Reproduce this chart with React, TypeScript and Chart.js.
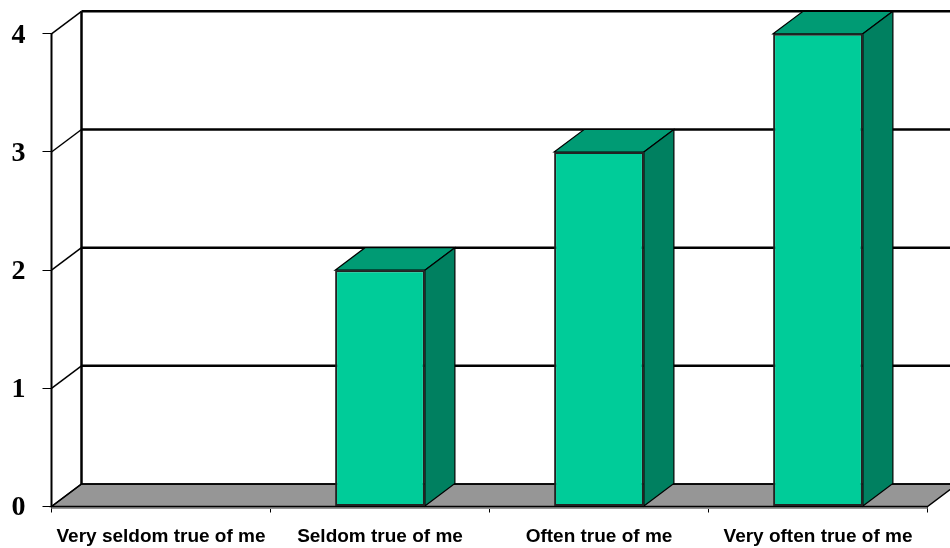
import React, { useEffect, useRef } from "react";
import { Chart, registerables } from "chart.js";

Chart.register(...registerables);

const categories = [
  "Very seldom true of me",
  "Seldom true of me",
  "Often true of me",
  "Very often true of me",
];
const values = [0, 2, 3, 4];

const DX = 30;
const DY = -22.5;

const depthPlugin = {
  id: "depth",
  beforeDatasetsDraw(chart: any) {
    const { ctx, chartArea, scales } = chart;
    const y = scales.y;
    const { left, right, bottom } = chartArea;
    ctx.save();
    // floor
    ctx.fillStyle = "#969696";
    ctx.strokeStyle = "#000";
    ctx.lineWidth = 1.5;
    ctx.beginPath();
    ctx.moveTo(left, bottom);
    ctx.lineTo(left + DX, bottom + DY);
    ctx.lineTo(right + DX, bottom + DY);
    ctx.lineTo(right, bottom);
    ctx.closePath();
    ctx.fill();
    ctx.fillRect(left, bottom, right - left, 2.5);
    ctx.stroke();
    // back wall grid lines
    for (const t of y.ticks) {
      const py = y.getPixelForValue(t.value);
      ctx.lineWidth = t.value === 0 ? 1.5 : 2.5;
      ctx.beginPath();
      ctx.moveTo(left + DX, py + DY);
      ctx.lineTo(right + DX, py + DY);
      ctx.stroke();
      ctx.lineWidth = 1.5;
      ctx.beginPath();
      ctx.moveTo(left, py);
      ctx.lineTo(left + DX, py + DY);
      ctx.stroke();
    }
    // walls
    ctx.lineWidth = 2;
    ctx.beginPath();
    ctx.moveTo(left, y.getPixelForValue(y.max));
    ctx.lineTo(left, bottom);
    ctx.stroke();
    ctx.lineWidth = 2.5;
    ctx.beginPath();
    ctx.moveTo(left + DX, y.getPixelForValue(y.max) + DY);
    ctx.lineTo(left + DX, bottom + DY);
    ctx.stroke();
    // bar depth faces
    const meta = chart.getDatasetMeta(0);
    ctx.lineWidth = 1.2;
    meta.data.forEach((bar: any, i: number) => {
      if (!values[i]) return;
      const x0 = bar.x - bar.width / 2;
      const x1 = bar.x + bar.width / 2;
      const top = bar.y;
      const base = bar.base;
      ctx.fillStyle = "#009B74";
      ctx.beginPath();
      ctx.moveTo(x0, top);
      ctx.lineTo(x0 + DX, top + DY);
      ctx.lineTo(x1 + DX, top + DY);
      ctx.lineTo(x1, top);
      ctx.closePath();
      ctx.fill();
      ctx.stroke();
      ctx.fillStyle = "#008060";
      ctx.beginPath();
      ctx.moveTo(x1, top);
      ctx.lineTo(x1 + DX, top + DY);
      ctx.lineTo(x1 + DX, base + DY);
      ctx.lineTo(x1, base);
      ctx.closePath();
      ctx.fill();
      ctx.stroke();
    });
    ctx.restore();
  },
};

export default function App() {
  const ref = useRef<HTMLCanvasElement | null>(null);
  useEffect(() => {
    document.body.style.margin = "0";
    const chart = new Chart(ref.current as HTMLCanvasElement, {
      type: "bar",
      data: {
        labels: categories,
        datasets: [
          {
            data: values,
            backgroundColor: "#00CC99",
            borderColor: "#222",
            borderWidth: (c: any) => (c.raw > 0 ? 2 : 0),
            borderSkipped: false,
            barPercentage: 0.41,
            categoryPercentage: 1,
          },
        ],
      },
      options: {
        responsive: false,
        animation: false,
        events: [],
        layout: { padding: { top: 28.5, right: 22.5, left: -0.5, bottom: 0 }, autoPadding: false },
        plugins: { legend: { display: false }, tooltip: { enabled: false }, title: { display: false } },
        scales: {
          x: {
            afterFit: (s: any) => { s.height = 41.5; },
            border: { display: false },
            grid: { drawOnChartArea: false, drawTicks: true, tickLength: 6, color: "#000", lineWidth: 1 },
            ticks: {
              color: "#000",
              padding: 13,
              maxRotation: 0,
              autoSkip: false,
              font: { family: "'Liberation Sans'", size: 19, weight: "bold" },
            },
          },
          y: {
            min: 0,
            max: 4,
            afterFit: (s: any) => { s.width = 52; },
            border: { display: false },
            grid: { drawOnChartArea: false, drawTicks: true, tickLength: 9, color: "#000", lineWidth: 1 },
            ticks: {
              stepSize: 1,
              color: "#000",
              padding: 17,
              labelOffset: 1.5,
              font: { family: "'Liberation Serif'", size: 28, weight: "bold" },
            },
          },
        },
      } as any,
      plugins: [depthPlugin],
    });
    return () => chart.destroy();
  }, []);
  return <canvas ref={ref} width={950} height={548} style={{ display: "block", width: 950, height: 548 }} />;
}
